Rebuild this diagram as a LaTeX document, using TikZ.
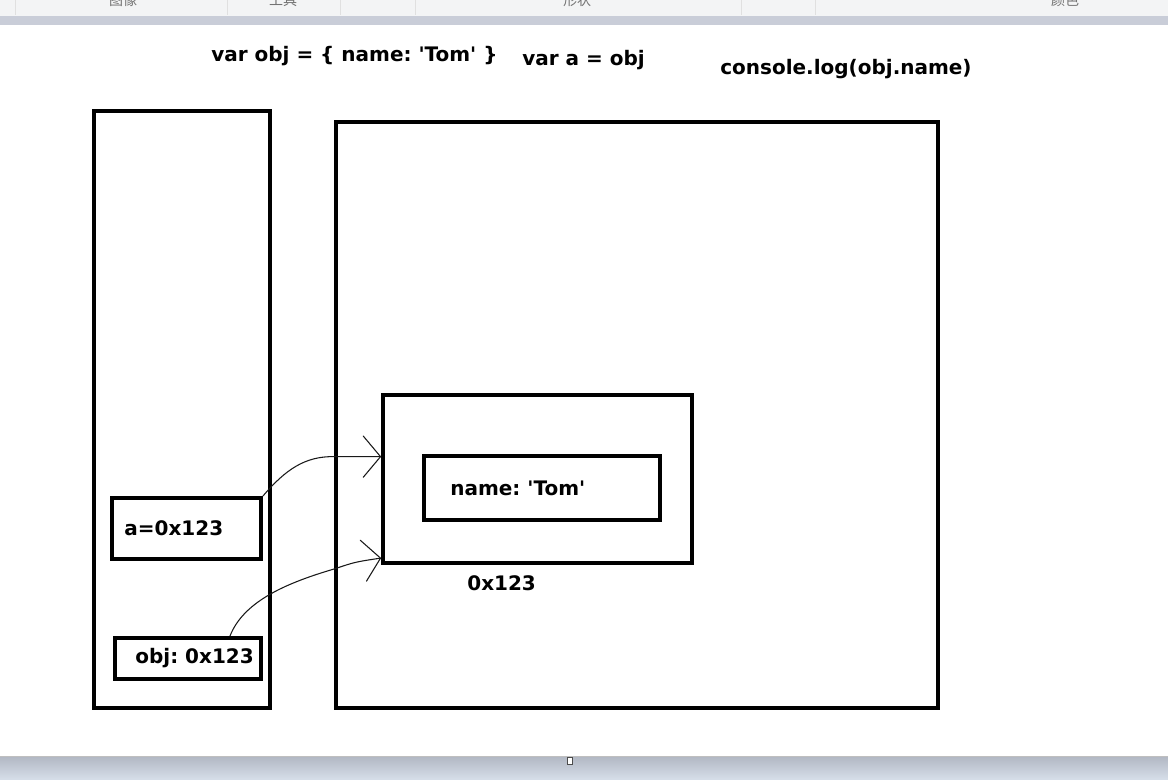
\documentclass[tikz,border=0pt]{standalone}
\usepackage{fontspec}
\setmainfont{DejaVu Sans}
\newfontfamily\cjkfont{Noto Sans CJK SC}
\usetikzlibrary{arrows.meta,positioning,calc}
\definecolor{tabgray}{HTML}{F3F4F5}
\definecolor{barblue}{HTML}{C9CDD8}
\definecolor{bartop}{HTML}{B3B9C5}
\definecolor{barbot}{HTML}{D7DFEA}
\newcommand{\sq}{\textquotesingle}
\frenchspacing
\tikzset{
  frame/.style={draw, line width=2.9pt, inner sep=0pt},
  txt/.style={font=\bfseries\fontsize{15}{18}\selectfont, inner sep=0pt},
  code/.style={txt, anchor=base west},
  ptr/.style={-{Straight Barb[length=13pt,width=31pt,round]}, line width=0.8pt,
              black!90},
  tab/.style={font=\cjkfont\fontsize{10.5}{12}\selectfont, text=black!55,
              anchor=base, inner sep=0pt},
}
\begin{document}
\begin{tikzpicture}[x=0.75pt,y=-0.75pt]
  \clip (0,0) rectangle (1168,780);
  \fill[white] (0,0) rectangle (1168,780);
  % window chrome
  \fill[tabgray] (0,0) rectangle (1168,16);
  \fill[barblue] (0,16) rectangle (1168,25);
  \foreach \x in {15,227,340,415,741,815}
    \draw[black!12] (\x,0) -- (\x,15);
  \foreach \x/\t in {123/图像,283/工具,577/形状,1065/颜色}
    \node[tab] (tab\x) at (\x,6) {\t};
  \fill[black!25] (0,756) rectangle (1168,757.5);
  \shade[top color=bartop, bottom color=barbot] (0,757.5) rectangle (1168,780);
  \draw[black!70, fill=white, line width=0.6pt] (567,757) rectangle (572,764);

  % code lines
  \node[code] (decl) at (211,62) {var obj = \{ name: \sq Tom\sq\ \}};
  \node[code] (copy) at (522,66) {var a = obj};
  \node[code] (log)  at (720,75) {console.log(obj.name)};

  % stack and heap
  \node[frame, minimum width=132pt, minimum height=447.75pt] (stack)
    at (182,409.5) {};
  \node[frame, minimum width=451.5pt, minimum height=439.5pt] (heap)
    at (637,415) {};
  \node[frame, minimum width=231.75pt, minimum height=126pt] (objbox)
    at (537.5,479) {};
  \node[frame, minimum width=177pt, minimum height=48pt] (prop)
    at (542,488) {};
  \node[txt, right=21pt of prop.west] (proptxt) {name: \sq Tom\sq};
  \node[txt, below right=7.5pt and 64.5pt of objbox.south west] (addr)
    {0x123};

  % variables on the stack
  \node[frame, minimum width=111.75pt, minimum height=45.75pt] (abox)
    at (186.5,528.5) {};
  \node[txt, right=10.5pt of abox.west] (atxt) {a=0x123};
  \node[frame, minimum width=109.5pt, minimum height=30.75pt] (objref)
    at (188,658.5) {};
  \node[txt, right=16.5pt of objref.west] (objtxt) {obj: 0x123};

  % references
  \coordinate (in1) at ($(objbox.north west)!0.37!(objbox.south west)$);
  \coordinate (in2) at ($(objbox.north west)!0.96!(objbox.south west)$);
  \coordinate (out2) at ($(objref.north west)!0.78!(objref.north east)$);
  \draw[ptr] (abox.north east) .. controls (285,470) and (305,456) ..
    (heap.west |- in1) -- (in1);
  \draw[ptr] (out2) .. controls (244,600) and (290,582) ..
    (heap.west |- 0,569) .. controls (355,562) .. (in2);
\end{tikzpicture}
\end{document}
